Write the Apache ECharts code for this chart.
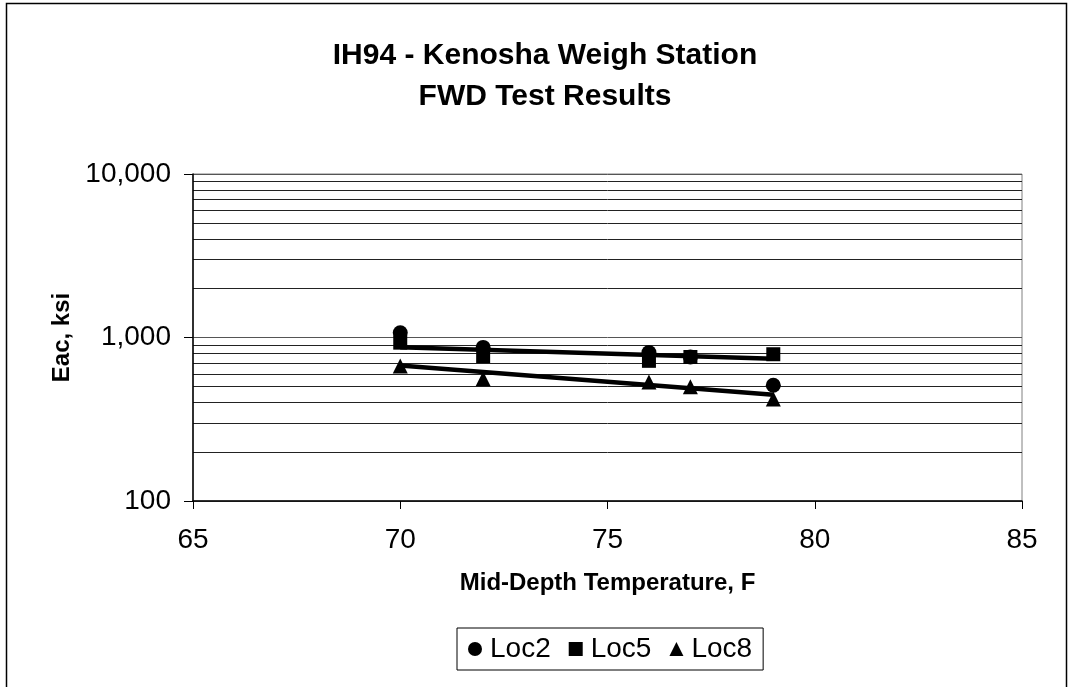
<!DOCTYPE html>
<html>
<head>
<meta charset="utf-8">
<script src="https://cdn.jsdelivr.net/npm/echarts@6/dist/echarts.min.js"></script>
<style>
  html, body { margin: 0; padding: 0; background: #fff; }
  #chart { width: 1070px; height: 687px; }
</style>
</head>
<body>
<div id="chart"></div>
<script>
// mid-depth temperature, F
const temps = [70, 72, 76, 77, 79];
// Eac, ksi
const loc2 = [1070, 870, 810, 760, 510];
const loc5 = [930, 770, 720, 760, 790];
const loc8 = [670, 560, 535, 500, 420];

// trendline end points (exponential fit)
const trendX = [70, 79];
const trend5 = [872, 741];
const trend8 = [675, 446];

const FONT = '"Liberation Sans", Arial, sans-serif';

const chart = echarts.init(document.getElementById('chart'));

const pointSeries = (name, data, symbol, size) => ({
  name: name,
  type: 'line',
  data: temps.map((t, i) => [t, data[i]]),
  lineStyle: { width: 0, opacity: 0 },
  symbol: symbol,
  symbolSize: size,
  showSymbol: true,
  itemStyle: { color: '#000' },
  z: 3,
  animation: false,
});

const trendSeries = (data) => ({
  type: 'line',
  data: trendX.map((t, i) => [t, data[i]]),
  showSymbol: false,
  symbol: 'none',
  lineStyle: { color: '#000', width: 4.5 },
  z: 4,
  animation: false,
});

chart.setOption({
  animation: false,
  title: {
    text: 'IH94 - Kenosha Weigh Station\nFWD Test Results',
    left: 540,
    textAlign: 'center',
    top: 30,
    textStyle: { fontFamily: FONT, fontWeight: 'bold', fontSize: 30, lineHeight: 41, color: '#000' },
  },
  grid: {
    left: 193, right: 48, top: 174, bottom: 186,
    show: true, borderColor: '#808080', borderWidth: 1,
  },
  legend: {
    data: [
      { name: 'Loc2', icon: 'circle' },
      { name: 'Loc5', icon: 'rect' },
      { name: 'Loc8', icon: 'triangle' },
    ],
    left: 457, top: 628,
    borderColor: '#000', borderWidth: 1,
    padding: [7, 11, 7, 11],
    itemGap: 18,
    itemWidth: 14, itemHeight: 14,
    textStyle: { fontFamily: FONT, fontSize: 28, color: '#000', padding: [0, 0, 0, 3] },
  },
  xAxis: {
    type: 'value',
    min: 65, max: 85, interval: 5,
    name: 'Mid-Depth Temperature, F',
    nameLocation: 'middle',
    nameGap: 70,
    nameTextStyle: { fontFamily: FONT, fontWeight: 'bold', fontSize: 24, color: '#000' },
    axisLine: { lineStyle: { color: '#000', width: 1.5 } },
    axisTick: { show: true, inside: false, length: 8, lineStyle: { color: '#000' } },
    axisLabel: { fontFamily: FONT, fontSize: 28, color: '#000', margin: 25 },
    splitLine: { show: false },
  },
  yAxis: {
    type: 'log',
    logBase: 10,
    min: 100, max: 10000,
    name: 'Eac, ksi',
    nameLocation: 'middle',
    nameGap: 100,
    nameRotate: 90,
    nameTextStyle: { fontFamily: FONT, fontWeight: 'bold', fontSize: 24, color: '#000' },
    axisLine: { show: true, lineStyle: { color: '#000', width: 1.5 } },
    axisTick: { show: true, inside: false, length: 9, lineStyle: { color: '#000' } },
    axisLabel: {
      fontFamily: FONT, fontSize: 28, color: '#000', margin: 22,
      formatter: v => Number(v).toLocaleString('en-US'),
    },
    splitLine: { show: true, lineStyle: { color: '#555', width: 1 } },
    minorTick: { show: false, splitNumber: 9 },
    minorSplitLine: { show: true, lineStyle: { color: '#222', width: 1 } },
  },
  graphic: [{
    type: 'rect',
    shape: { x: 6.5, y: 3.5, width: 1060, height: 690 },
    style: { fill: null, stroke: '#000', lineWidth: 1.5 },
    silent: true,
  }],
  series: [
    pointSeries('Loc2', loc2, 'circle', 15),
    pointSeries('Loc5', loc5, 'rect', 14),
    pointSeries('Loc8', loc8, 'triangle', 15),
    trendSeries(trend5),
    trendSeries(trend8),
  ],
});

window.onresize = () => chart.resize();
</script>
</body>
</html>
